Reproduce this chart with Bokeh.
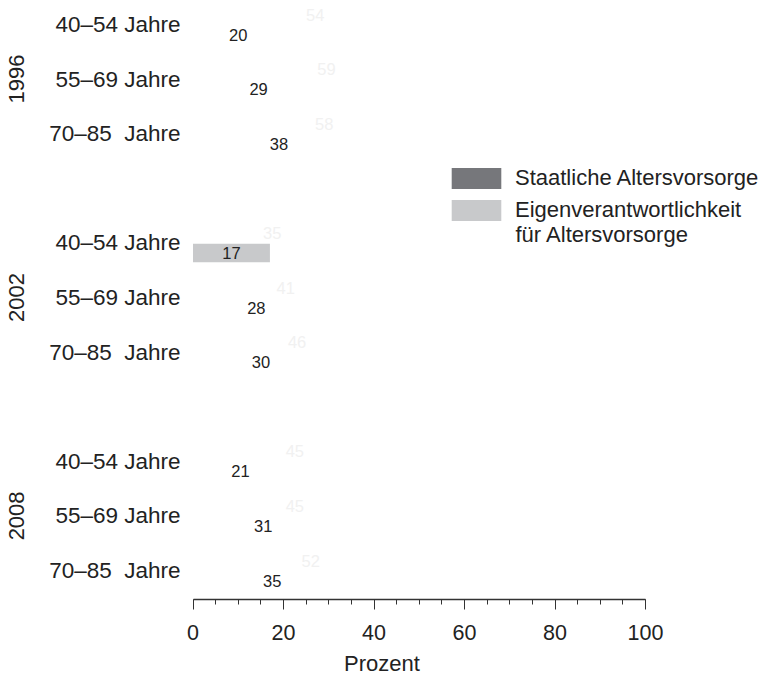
import math
from bokeh.plotting import figure
from bokeh.models import ColumnDataSource, CDSView, IndexFilter, Legend, LegendItem, FixedTicker, Range1d
from bokeh.core.properties import value
from bokeh.embed import file_html
from bokeh.resources import INLINE

# ---- data ----
years = ["1996", "2002", "2008"]
ages = ["40–54 Jahre", "55–69 Jahre", "70–85\u00a0 Jahre"]
staatlich = [54, 59, 58, 35, 41, 46, 45, 45, 52]
eigen = [20, 29, 38, 17, 28, 30, 21, 31, 35]
series_names = ["Staatliche Altersvorsorge", "Eigenverantwortlichkeit", "für Altersvorsorge"]
x_ticks = [0, 20, 40, 60, 80, 100]

DARK = "#76777b"
LIGHT = "#c8c9cb"
FONT = "Liberation Sans"
TXT = "#222222"

# ---- layout helpers ----
PX_X = 4.525          # px per percent
PX_Y = 54.6           # px per row
FRAME_W, FRAME_H = 763, 599
X0_PX = 192.5         # position of 0 % inside frame
x_start = -X0_PX / PX_X
x_end = x_start + FRAME_W / PX_X
y_end = 24 / PX_Y
y_start = y_end - FRAME_H / PX_Y

def px_to_x(px):
    return (px - X0_PX) / PX_X

def py_to_y(py):
    return y_end - py / PX_Y

rows, age_lab, year_y = [], [], []
for gi, yr in enumerate(years):
    for ai, a in enumerate(ages):
        rows.append(-(gi * 4 + ai))
        age_lab.append(a)
    year_y.append(-(gi * 4 + 1))

OFF = 10 / PX_Y
BH = 18.5 / PX_Y

src = ColumnDataSource(dict(
    y=rows,
    ys=[r + OFF for r in rows],
    ye=[r - OFF for r in rows],
    s=staatlich, e=eigen,
    s_mid=[v / 2 for v in staatlich], e_mid=[v / 2 for v in eigen],
    s_lab=[str(v) for v in staatlich], e_lab=[str(v) for v in eigen],
    age=age_lab,
))

p = figure(frame_width=FRAME_W, frame_height=FRAME_H, output_backend="svg",
           toolbar_location=None, x_range=Range1d(x_start, x_end),
           y_range=Range1d(y_start, y_end), y_axis_location=None,
           min_border_left=0, min_border_right=0, min_border_top=0, min_border_bottom=0)
p.outline_line_color = None
p.grid.visible = False

r_dark = p.hbar(y="ys", right="s", left=0, height=BH, fill_color=DARK, line_color=None,
                source=src, visible=False)
r_light = p.hbar(y="ye", right="e", left=0, height=BH, fill_color=LIGHT, line_color=None,
                 source=src, visible=False)
# the only bar that is drawn in the reference
p.hbar(y="ye", right="e", left=0, height=BH, fill_color=LIGHT, line_color=None,
       source=src, view=CDSView(filter=IndexFilter([3])))

p.text(x="s_mid", y="ys", text="s_lab", source=src, text_align="center", text_baseline="middle",
       text_color="#f1f1f1", text_font=value(FONT), text_font_size="16.5px")
p.text(x="e_mid", y="ye", text="e_lab", source=src, text_align="center", text_baseline="middle",
       text_color=TXT, text_font=value(FONT), text_font_size="16.5px")

p.text(x=px_to_x(180), y="y", text="age", source=src, text_align="right", text_baseline="middle",
       text_color=TXT, text_font=value(FONT), text_font_size="22.5px")
p.text(x=[px_to_x(16)] * 3, y=year_y, text=years, angle=math.pi / 2,
       text_align="center", text_baseline="middle",
       text_color=TXT, text_font=value(FONT), text_font_size="22px")

ax = p.xaxis[0]
ax.ticker = FixedTicker(ticks=x_ticks, minor_ticks=list(range(0, 101, 5)))
ax.bounds = (0, 100)
ax.axis_label = "Prozent"
ax.axis_line_color = "#333333"
ax.axis_line_width = 1.3
ax.major_tick_line_color = "#333333"
ax.minor_tick_line_color = "#333333"
ax.major_tick_in = 0
ax.major_tick_out = 10
ax.minor_tick_in = 0
ax.minor_tick_out = 5
ax.major_label_standoff = 15
ax.major_label_text_font = FONT
ax.major_label_text_font_size = "21.5px"
ax.major_label_text_color = TXT
ax.axis_label_standoff = 8
ax.axis_label_text_font = FONT
ax.axis_label_text_font_size = "22px"
ax.axis_label_text_font_style = "normal"
ax.axis_label_text_color = TXT

legend = Legend(items=[LegendItem(label=series_names[0], renderers=[r_dark]),
                       LegendItem(label=series_names[1], renderers=[r_light])],
                location=(445, 376), glyph_width=62, glyph_height=26, spacing=6,
                padding=0, margin=0, label_standoff=8,
                label_text_font=FONT, label_text_font_size="22px", label_text_color=TXT,
                border_line_color=None, background_fill_alpha=0,
                inactive_fill_alpha=0, click_policy="none")
p.add_layout(legend)
p.text(x=[px_to_x(515)], y=[py_to_y(234)], text=[series_names[2]], text_align="left",
       text_baseline="middle", text_color=TXT, text_font=value(FONT), text_font_size="22px")

open("out.html", "w").write(file_html(p, INLINE))
